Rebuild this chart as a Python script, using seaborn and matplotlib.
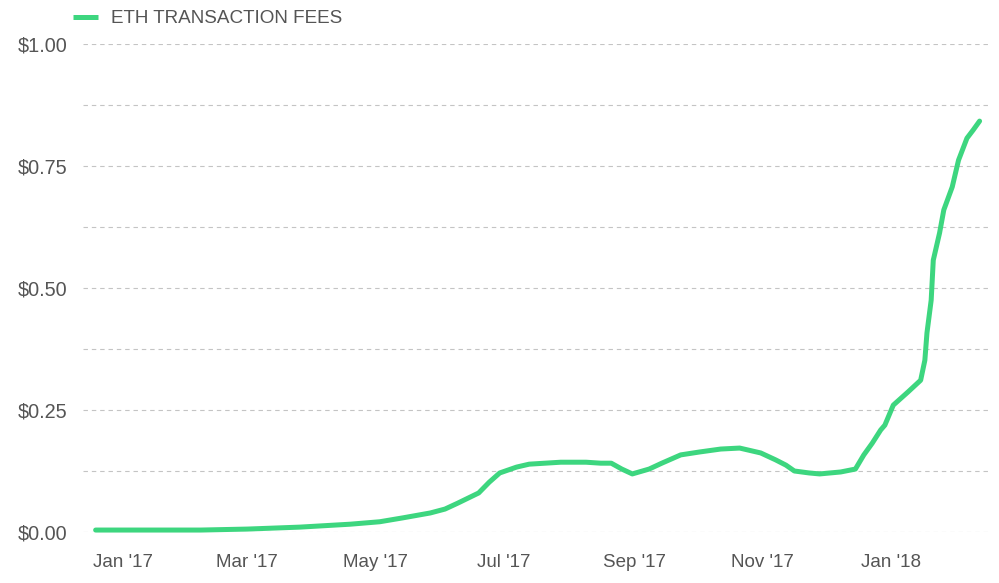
import matplotlib
matplotlib.use("Agg")
import matplotlib.pyplot as plt
import matplotlib.dates as mdates
from matplotlib.ticker import MultipleLocator, FuncFormatter
import seaborn as sns
import pandas as pd

dates = ["2016-12-19", "2017-01-14", "2017-02-07", "2017-03-01", "2017-03-26",
         "2017-04-19", "2017-05-03", "2017-05-14", "2017-05-27", "2017-06-03",
         "2017-06-09", "2017-06-19", "2017-06-24", "2017-06-29", "2017-07-07",
         "2017-07-13", "2017-07-28", "2017-08-09", "2017-08-16", "2017-08-21",
         "2017-08-26", "2017-08-31", "2017-09-08", "2017-09-14", "2017-09-23",
         "2017-10-02", "2017-10-12", "2017-10-21", "2017-10-31", "2017-11-07",
         "2017-11-12", "2017-11-16", "2017-11-23", "2017-11-28", "2017-12-08",
         "2017-12-15", "2017-12-19", "2017-12-23", "2017-12-27", "2017-12-29",
         "2018-01-02", "2018-01-09", "2018-01-15", "2018-01-17", "2018-01-18",
         "2018-01-20", "2018-01-21", "2018-01-24", "2018-01-26", "2018-01-30",
         "2018-02-02", "2018-02-06", "2018-02-09", "2018-02-12"]
fees = [0.004, 0.004, 0.004, 0.006, 0.010,
        0.016, 0.021, 0.029, 0.039, 0.047,
        0.059, 0.080, 0.102, 0.121, 0.133,
        0.139, 0.143, 0.143, 0.141, 0.141,
        0.129, 0.119, 0.129, 0.141, 0.158,
        0.164, 0.170, 0.172, 0.162, 0.148,
        0.137, 0.125, 0.121, 0.119, 0.123,
        0.129, 0.158, 0.182, 0.209, 0.219,
        0.260, 0.287, 0.311, 0.352, 0.408,
        0.475, 0.557, 0.613, 0.660, 0.707,
        0.762, 0.807, 0.824, 0.842]
series_name = "ETH TRANSACTION FEES"
tick_months = [1, 3, 5, 7, 9, 11]

df = pd.DataFrame({"date": pd.to_datetime(dates), "fee": fees, "series": series_name})

sns.set_theme(style="white")
plt.rcParams["font.family"] = ["Liberation Sans", "DejaVu Sans"]

TEXT = "#555555"
GREEN = "#3dd67f"

fig = plt.figure(figsize=(9.99, 5.83), dpi=100)
ax = fig.add_axes([83 / 999, 1 - 532 / 583, (988 - 83) / 999, (532 - 44) / 583])

sns.lineplot(data=df, x="date", y="fee", hue="series", palette=[GREEN],
             linewidth=3.6, ax=ax, clip_on=False, solid_capstyle="round",
             solid_joinstyle="round")

ax.set_xlim(pd.Timestamp("2016-12-13"), pd.Timestamp("2018-02-16"))
ax.set_ylim(0, 1.0)

ax.yaxis.set_major_locator(MultipleLocator(0.25))
ax.yaxis.set_minor_locator(MultipleLocator(0.125))
ax.yaxis.set_major_formatter(FuncFormatter(lambda v, p: f"${v:.2f}"))
ax.xaxis.set_major_locator(mdates.MonthLocator(bymonth=tick_months))
ax.xaxis.set_major_formatter(mdates.DateFormatter("%b '%y"))

ax.grid(False)
ax.grid(True, axis="y", which="both", color="#c4c4c4", linewidth=0.8,
        linestyle=(0, (4, 3.5)))
ax.set_axisbelow(True)
for s in ax.spines.values():
    s.set_visible(False)
ax.tick_params(axis="both", which="both", length=0, labelcolor=TEXT)
ax.tick_params(axis="y", labelsize=14.3, pad=11.5)
ax.tick_params(axis="x", labelsize=13.5, pad=16)
ax.set_xlabel("")
ax.set_ylabel("")

leg = ax.legend(loc="upper left", bbox_to_anchor=(73 / 999, 1 - 10 / 583),
                bbox_transform=fig.transFigure, frameon=False, fontsize=13.6,
                handlelength=1.3, handletextpad=0.7, borderpad=0, borderaxespad=0)
for t in leg.get_texts():
    t.set_color(TEXT)
for l in leg.get_lines():
    l.set_linewidth(3.6)
    l.set_solid_capstyle("butt")

fig.savefig("out.png", dpi=100)
